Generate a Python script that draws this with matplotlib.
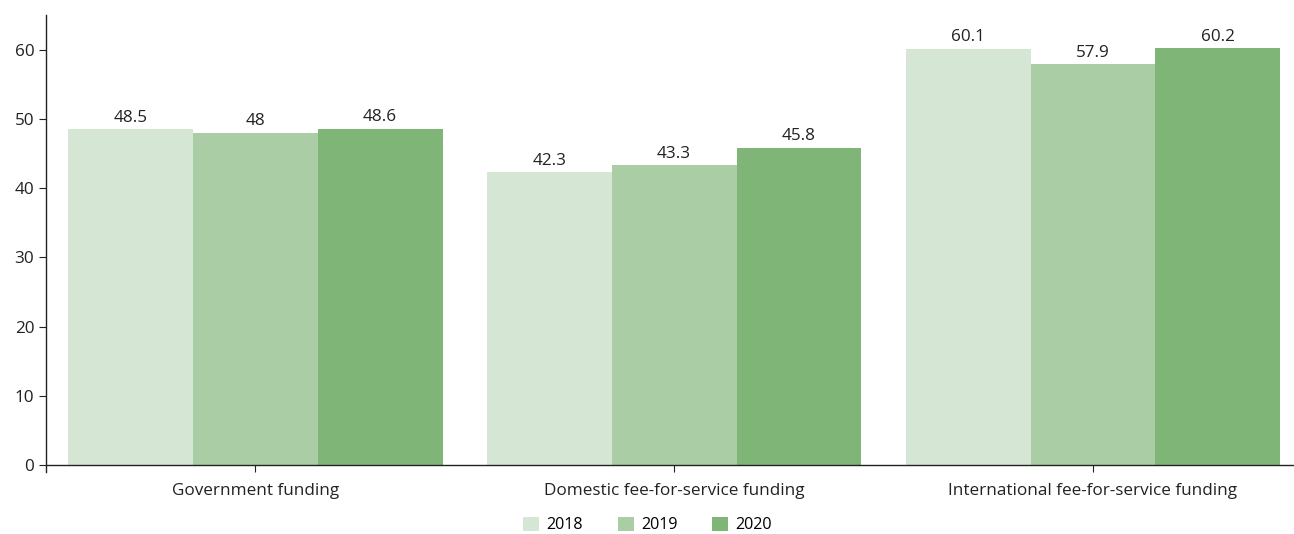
import numpy as np
import matplotlib.pyplot as plt

plt.rcParams['font.family'] = ['Open Sans', 'DejaVu Sans']

categories = ['Government funding', 'Domestic fee-for-service funding',
              'International fee-for-service funding']
years = ['2018', '2019', '2020']
v2018 = [48.5, 42.3, 60.1]
v2019 = [48, 43.3, 57.9]
v2020 = [48.6, 45.8, 60.2]

colors = ['#d5e7d4', '#abcda6', '#7fb577']
FS = 12.3

fig = plt.figure(figsize=(12.94, 5.34), dpi=100)
ax = fig.add_axes([0.0355, 0.129, 0.9645, 0.843])

x = np.arange(len(categories))
w = 0.298
for i, (vals, yr) in enumerate(zip([v2018, v2019, v2020], years)):
    bars = ax.bar(x + (i - 1) * w, vals, w, color=colors[i], label=yr)
    for b, v in zip(bars, vals):
        ax.text(b.get_x() + b.get_width() / 2, v + 0.5, f'{v:g}',
                ha='center', va='bottom', fontsize=FS, color='#222222')

ax.set_xlim(-0.5, 2.48)
ax.set_ylim(0, 65)
ax.set_yticks(range(0, 61, 10))
ax.set_xticks(x)
ax.set_xticklabels(categories)
ax.tick_params(axis='both', labelsize=FS, colors='#222222', length=5)
ax.tick_params(axis='x', pad=8)
for s in ['top', 'right']:
    ax.spines[s].set_visible(False)
for s in ['left', 'bottom']:
    ax.spines[s].set_color('#222222')
    ax.spines[s].set_linewidth(1)
ax.spines['left'].set_bounds(-1, 65)

leg = ax.legend(loc='center', bbox_to_anchor=(0.482, -0.133), ncol=3,
                frameon=False, fontsize=11.6, handlelength=1.0, handleheight=1.0,
                columnspacing=2.15, handletextpad=0.45)

fig.savefig('out.png', dpi=100, facecolor='white')
